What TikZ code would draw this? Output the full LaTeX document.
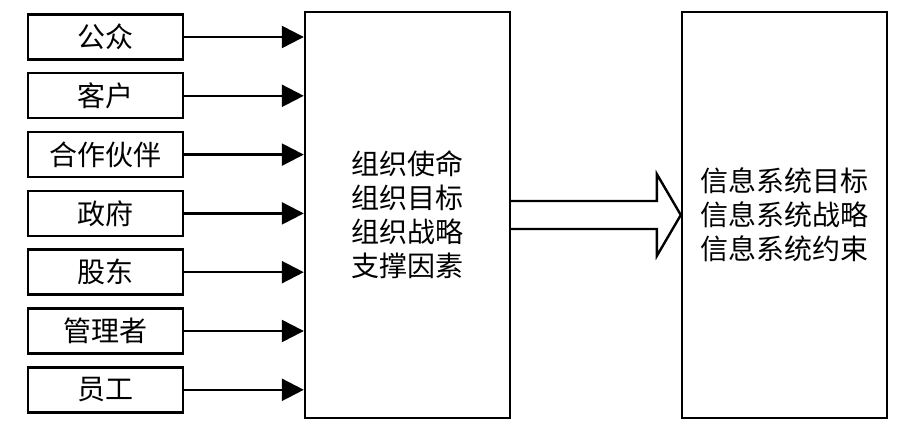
\documentclass[tikz,border=0pt]{standalone}
\usepackage{fontspec}
\setmainfont{Noto Sans CJK SC}
\usetikzlibrary{arrows.meta,calc}
\tikzset{
  src/.style={draw, line width=2.4pt, minimum width=155pt, minimum height=45pt, inner sep=0pt, font=\fontsize{28}{34}\selectfont},
  blk/.style={draw, line width=2.4pt, minimum width=205pt, minimum height=406pt, inner sep=0pt, align=center, font=\fontsize{28}{34}\selectfont},
}
\begin{document}
\begin{tikzpicture}[x=1pt, y=-1pt, >={Triangle[length=22pt,width=22pt]}]
  \useasboundingbox (0,0) rectangle (910,430);
  \node[blk] (org) at (407.5,215) {组织使命\\组织目标\\组织战略\\支撑因素};
  \node[blk] (sys) at (784.5,215) {信息系统目标\\信息系统战略\\信息系统约束};
  \foreach \name [count=\i] in {公众,客户,合作伙伴,政府,股东,管理者,员工} {
    \node[src] (s\i) at (105.5, 37+58.8*\i-58.8) {\name};
    \draw[->, line width=2.4pt] (s\i) -- (org.west |- s\i);
  }
  % hollow arrow between the two blocks
  \coordinate (tip) at (sys.west |- org.east);
  \draw[line width=2.4pt, line join=miter]
    ($(org.east)+(0,-14)$) -- ($(tip)+(-24,-14)$) -- ($(tip)+(-24,-41)$) -- (tip)
    -- ($(tip)+(-24,41)$) -- ($(tip)+(-24,14)$) -- ($(org.east)+(0,14)$);
\end{tikzpicture}
\end{document}
